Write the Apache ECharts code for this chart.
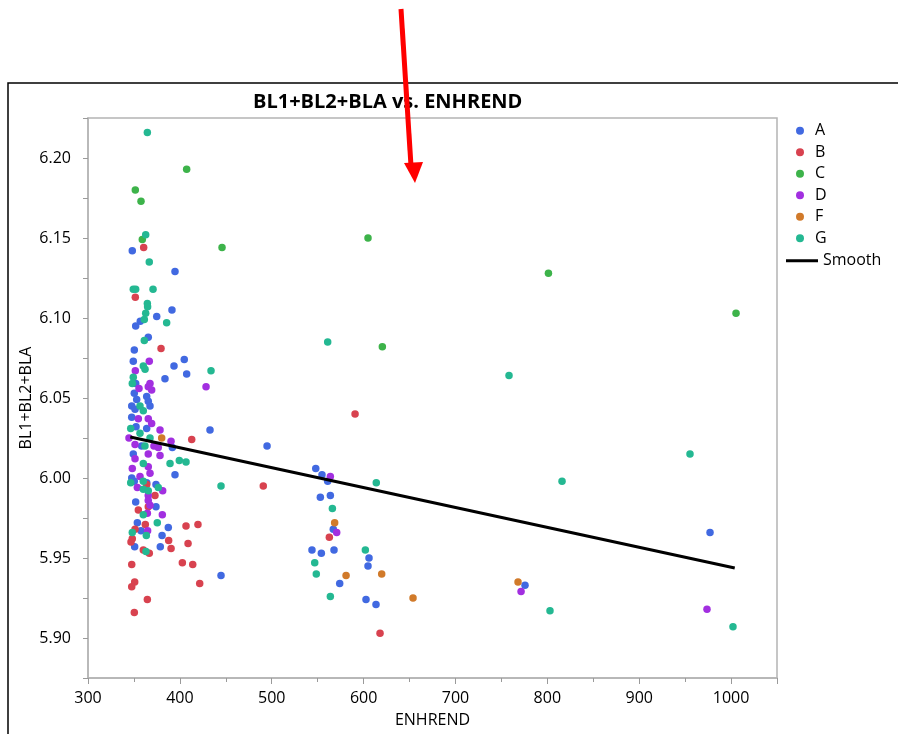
<!DOCTYPE html>
<html>
<head>
<meta charset="utf-8">
<script src="https://cdn.jsdelivr.net/npm/echarts@6/dist/echarts.min.js"></script>
<style>
  html, body { margin: 0; padding: 0; background: #fff; }
  #chart { width: 898px; height: 734px; }
</style>
</head>
<body>
<div id="chart"></div>
<script>
// groups and their points [ENHREND, BL1+BL2+BLA]
var groups = ['A', 'B', 'C', 'D', 'F', 'G'];
var groupColors = ['#4169e1', '#d8424f', '#3db34a', '#a22fe0', '#d17a2a', '#24b892'];

var ptsA = [[348.2,6.142],[394.7,6.129],[391.4,6.105],[374.8,6.101],[356.9,6.098],[351.9,6.095],[365.6,6.088],
  [350.4,6.080],[349.3,6.073],[404.8,6.074],[393.6,6.070],[407.4,6.065],[383.8,6.062],[351.9,6.059],[350.4,6.053],
  [363.9,6.051],[353,6.049],[365.6,6.048],[347.6,6.045],[367.5,6.045],[351.2,6.043],[347.6,6.038],[352.3,6.032],
  [363.9,6.031],[432.8,6.030],[358.4,6.020],[391.8,6.019],[349.3,6.015],[494.9,6.020],[394.7,6.002],[347.6,6.000],
  [350.4,5.998],[363.9,5.997],[374,5.996],[351.9,5.985],[374,5.982],[353.7,5.972],[387.4,5.969],[357.7,5.967],
  [380.6,5.964],[350.8,5.957],[378.7,5.957],[444.8,5.939],[547.9,6.006],[554.7,6.002],[560.9,5.998],[563.8,5.989],
  [552.9,5.988],[567,5.968],[543.8,5.955],[554,5.953],[567.8,5.955],[605.9,5.950],[604.8,5.945],[574,5.934],
  [602.6,5.924],[613.5,5.921],[775.7,5.933],[977.1,5.966]];
var ptsB = [[360.6,6.144],[351.5,6.113],[379.5,6.081],[412.9,6.024],[590.7,6.040],[490.8,5.995],[363.9,5.996],
  [372.9,5.989],[354.8,5.980],[365.6,5.982],[362.4,5.971],[406.7,5.970],[419.7,5.971],[351.2,5.968],[348.2,5.962],
  [346.8,5.960],[387.8,5.961],[390.4,5.956],[408.9,5.959],[360.2,5.955],[366.7,5.953],[347.6,5.946],[402.7,5.947],
  [414,5.946],[350.8,5.935],[347.6,5.932],[421.6,5.934],[364.6,5.924],[350.4,5.916],[562.7,5.963],[617.9,5.903]];
var ptsC = [[351.5,6.180],[357.7,6.173],[359.1,6.149],[407.4,6.193],[445.9,6.144],[604.8,6.150],[620.4,6.082],
  [801.2,6.128],[1005.4,6.103]];
var ptsD = [[366.7,6.073],[351.5,6.067],[428.5,6.057],[367.5,6.059],[365.6,6.057],[355.5,6.056],[369.3,6.055],
  [365.6,6.037],[354.8,6.037],[369.3,6.034],[378.4,6.030],[344.6,6.025],[351.2,6.021],[371.8,6.020],[376.5,6.019],
  [390.4,6.023],[365.6,6.015],[351.2,6.012],[378.4,6.014],[365.6,6.007],[348.2,6.006],[367.5,6.003],[356.6,6.001],
  [381.3,5.992],[353.7,5.994],[365.6,5.989],[365.6,5.986],[367.5,5.983],[364.6,5.978],[380.9,5.977],[364.9,5.967],
  [563.8,6.001],[570.7,5.966],[771.4,5.929],[973.8,5.918]];
var ptsF = [[380.2,6.025],[568.5,5.972],[580.9,5.939],[619.7,5.940],[768.1,5.935],[653.8,5.925]];
var ptsG = [[364.6,6.216],[362.8,6.152],[366.7,6.135],[349.3,6.118],[351.9,6.118],[370.8,6.118],[364.6,6.109],
  [364.9,6.107],[362.8,6.103],[361.3,6.099],[385.6,6.097],[361.3,6.086],[360.2,6.070],[362.1,6.068],[349.3,6.063],
  [348.2,6.059],[433.9,6.067],[356.6,6.045],[360.2,6.042],[346.5,6.031],[356.6,6.028],[367.5,6.025],[362,6.020],
  [360.2,6.009],[389.3,6.009],[399.4,6.011],[406.7,6.010],[346.5,5.997],[360.2,5.998],[376.5,5.994],[360.2,5.993],
  [365.6,5.992],[360.2,5.977],[375.4,5.972],[348.2,5.966],[363.5,5.964],[363.1,5.954],[444.8,5.995],[560.9,6.085],
  [758.3,6.064],[816,5.998],[955.3,6.015],[613.8,5.997],[566,5.981],[601.9,5.955],[546.8,5.947],[548.5,5.940],
  [563.8,5.926],[802.9,5.917],[1002.1,5.907]];
var groupPoints = [ptsA, ptsB, ptsC, ptsD, ptsF, ptsG];

// fitted line ends
var smoothLine = [[346, 6.0256], [1004, 5.9437]];

var font = 'Open Sans, Noto Sans, sans-serif';

var series = groups.map(function (g, i) {
  return {
    name: g,
    type: 'scatter',
    symbolSize: 7.5,
    symbolKeepAspect: true,
    itemStyle: { color: groupColors[i], opacity: 1 },
    data: groupPoints[i],
    z: 2
  };
});
series.push({
  name: 'Smooth',
  type: 'line',
  showSymbol: false,
  symbol: 'none',
  lineStyle: { color: '#000', width: 3 },
  itemStyle: { color: '#000' },
  data: smoothLine,
  z: 5
});

var chart = echarts.init(document.getElementById('chart'));
chart.setOption({
  animation: false,
  title: {
    text: 'BL1+BL2+BLA vs. ENHREND',
    left: 248,
    top: 87,
    textStyle: { fontFamily: font, fontSize: 20, fontWeight: 'bold', color: '#000' }
  },
  legend: [{
    orient: 'vertical',
    left: 791,
    top: 117,
    itemWidth: 20,
    itemHeight: 8,
    itemGap: 4,
    icon: 'circle',
    data: groups,
    textStyle: { fontFamily: font, fontSize: 16, color: '#000', lineHeight: 17.5 }
  }, {
    orient: 'vertical',
    left: 781,
    top: 247,
    itemWidth: 32,
    itemHeight: 3,
    icon: 'rect',
    data: ['Smooth'],
    textStyle: { fontFamily: font, fontSize: 16, color: '#000', lineHeight: 17.5 }
  }],
  grid: {
    left: 88, top: 118, right: 121, bottom: 56,
    show: true, borderColor: '#b4b4b4', borderWidth: 1.5, backgroundColor: '#fff'
  },
  xAxis: {
    type: 'value',
    min: 300, max: 1050, interval: 100,
    name: 'ENHREND', nameLocation: 'middle', nameGap: 34,
    nameTextStyle: { fontFamily: font, fontSize: 16, color: '#000' },
    axisLine: { show: true, lineStyle: { color: '#b4b4b4', width: 1.5 } },
    axisTick: { show: true, length: 6, lineStyle: { color: '#9a9a9a' } },
    minorTick: { show: true, splitNumber: 2, length: 4, lineStyle: { color: '#9a9a9a' } },
    axisLabel: {
      showMaxLabel: false, fontFamily: font, fontSize: 16, color: '#000', margin: 12,
      formatter: function (v) { return String(v); }
    },
    splitLine: { show: false }
  },
  yAxis: {
    type: 'value',
    min: 5.875, max: 6.225, interval: 0.025,
    name: 'BL1+BL2+BLA', nameLocation: 'middle', nameGap: 54,
    nameMoveOverlap: false,
    nameTextStyle: { fontFamily: font, fontSize: 16, color: '#000' },
    axisLine: { show: true, lineStyle: { color: '#b4b4b4', width: 1.5 } },
    axisTick: { show: true, length: 5, lineStyle: { color: '#9a9a9a' } },
    axisLabel: {
      fontFamily: font, fontSize: 16, color: '#000', margin: 17,
      formatter: function (v) {
        var k = Math.round(v * 1000);
        return k % 50 === 0 ? v.toFixed(2) : '';
      }
    },
    splitLine: { show: false }
  },
  graphic: [
    // outer frame
    { type: 'rect', shape: { x: 8, y: 83, width: 900, height: 700 },
      style: { fill: 'none', stroke: '#000', lineWidth: 1.5 }, z: -1 },
    // red arrow annotation
    { type: 'line', shape: { x1: 401, y1: 9, x2: 411, y2: 166 },
      style: { stroke: '#ff0000', lineWidth: 5 }, z: 100 },
    { type: 'polygon', shape: { points: [[404, 163], [423, 162], [415, 183]] },
      style: { fill: '#ff0000' }, z: 100 }
  ],
  series: series
});
</script>
</body>
</html>
